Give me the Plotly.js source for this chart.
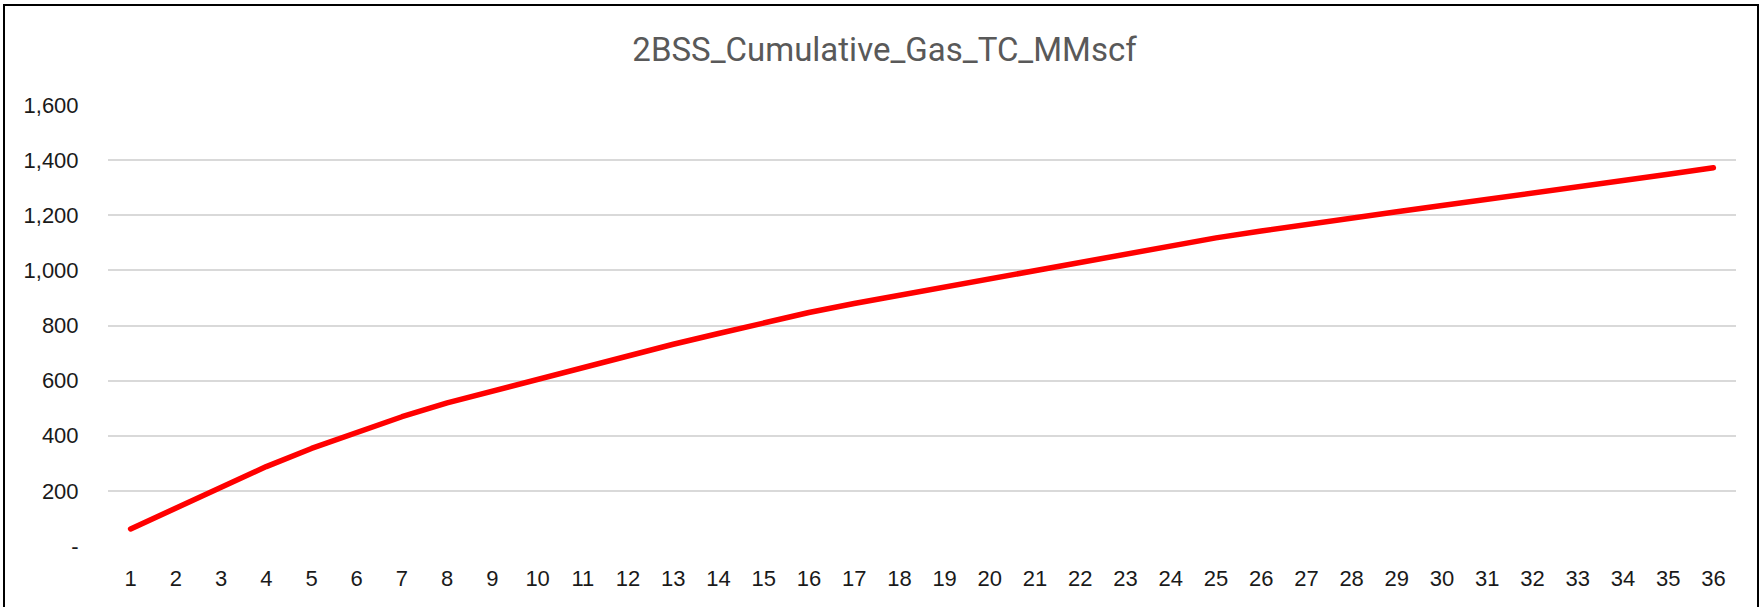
<!DOCTYPE html>
<html>
<head>
<meta charset="utf-8">
<script src="https://cdn.plot.ly/plotly-3.0.1.min.js"></script>
<style>
  html, body { margin: 0; padding: 0; background: #fff; }
  #wrap { position: relative; width: 1762px; height: 607px; overflow: hidden; }
  #chart { position: absolute; left: 0; top: 0; width: 1762px; height: 607px; }
  #frame { position: absolute; left: 3px; top: 4px; width: 1756px; height: 620px;
           border: 2px solid #000; box-sizing: border-box; pointer-events: none; }
  .scatterlayer path.js-line { stroke-linecap: round !important; stroke-linejoin: round !important; }
</style>
</head>
<body>
<div id="wrap">
  <div id="chart"></div>
  <div id="frame"></div>
</div>
<script>
const months = ["1","2","3","4","5","6","7","8","9","10","11","12","13","14","15","16","17","18",
                "19","20","21","22","23","24","25","26","27","28","29","30","31","32","33","34","35","36"];
const cumulativeGas = [62, 139, 216, 288, 354, 414, 469, 519, 562, 606,
                       649, 691, 732, 771, 810, 847, 880, 910, 938, 969,
                       1000, 1031, 1062, 1092, 1118, 1143, 1168, 1192, 1213, 1235,
                       1257, 1280, 1303, 1326, 1349, 1372];
const yTickVals = [0, 200, 400, 600, 800, 1000, 1200, 1400, 1600];
const yTickText = ["-", "200", "400", "600", "800", "1,000", "1,200", "1,400", "1,600"];
const chartTitle = "2BSS_Cumulative_Gas_TC_MMscf";

const trace = {
  x: months,
  y: cumulativeGas,
  type: "scatter",
  mode: "lines",
  line: { color: "#FF0000", width: 5.5 },
  hoverinfo: "x+y"
};

const layout = {
  width: 1762,
  height: 607,
  paper_bgcolor: "#ffffff",
  plot_bgcolor: "#ffffff",
  margin: { l: 108, r: 26, t: 105, b: 61, pad: 0 },
  showlegend: false,
  title: {
    text: chartTitle,
    font: { family: "Roboto, sans-serif", size: 33, color: "#595959" },
    x: 0.502, xanchor: "center",
    y: 0.918, yanchor: "middle"
  },
  xaxis: {
    type: "category",
    range: [-0.5, months.length - 0.5],
    showgrid: false,
    zeroline: false,
    showline: false,
    ticks: "outside",
    ticklen: 13,
    tickcolor: "rgba(0,0,0,0)",
    tickfont: { family: "Liberation Sans, Arial, sans-serif", size: 22, color: "#1a1a1a" }
  },
  yaxis: {
    range: [0, 1600],
    tickvals: yTickVals,
    ticktext: yTickText,
    showgrid: true,
    gridcolor: "#d9d9d9",
    gridwidth: 2,
    zeroline: false,
    showline: false,
    ticks: "outside",
    ticklen: 24,
    tickcolor: "rgba(0,0,0,0)",
    tickfont: { family: "Liberation Sans, Arial, sans-serif", size: 22, color: "#1a1a1a" }
  }
};

Plotly.newPlot("chart", [trace], layout, { displayModeBar: false, staticPlot: true });
</script>
</body>
</html>
